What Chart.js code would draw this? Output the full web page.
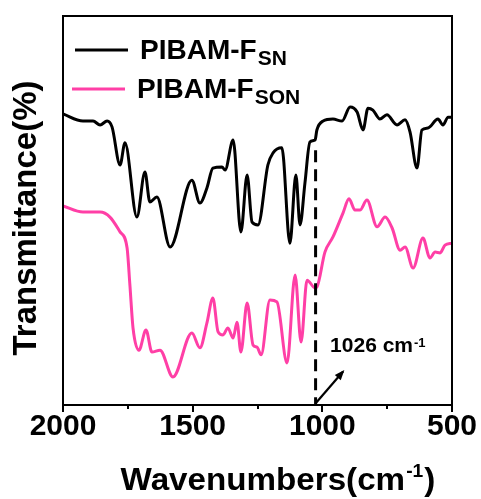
<!DOCTYPE html>
<html><head><meta charset="utf-8">
<script src="https://cdn.jsdelivr.net/npm/chart.js@4.4.0/dist/chart.umd.min.js"></script>
<style>html,body{margin:0;padding:0;background:#fff;overflow:hidden}</style>
</head><body>
<canvas id="c" width="481" height="499"></canvas>
<script>
// ---- data ----
const xTickValues = [2000, 1500, 1000, 500];
const xMinorTickValues = [1750, 1250, 750];
const xAxisTitle = 'Wavenumbers(cm';
const yAxisTitle = 'Transmittance(%)';
const seriesLabels = ['PIBAM-F', 'PIBAM-F'];
const seriesSubscripts = ['SN', 'SON'];
const seriesColors = ['#000000', '#ff3fa6'];

const wavenumbersSN = [2000,1923,1884,1857,1830,1811,1780,1761,1715,1684,1665,1638,1587,1503,1472,1445,1422,1387,1375,1344,1314,1290,1271,1248,1210,1190,1156,1125,1102,1086,1067,1048,1028,1021,997,959,924,893,866,843,824,805,778,751,712,681,662,635,616,593,554,535,515,500];
const transmittanceSN = [74.8,73.0,73.0,72.0,73.0,71.5,61.7,67.4,48.3,59.9,52.2,53.5,40.6,57.8,51.9,55.8,60.9,61.2,60.4,68.1,44.5,59.1,47.0,46.3,61.7,64.8,66.1,41.6,59.1,46.3,57.1,67.6,68.1,70.7,73.0,73.5,73.0,76.6,75.3,70.7,76.3,75.8,73.5,74.6,72.0,73.3,70.2,60.9,70.7,71.2,73.5,72.0,74.0,74.0];

const wavenumbersSON = [2000,1923,1857,1819,1780,1753,1742,1730,1707,1680,1657,1626,1576,1503,1472,1445,1422,1402,1383,1364,1344,1329,1314,1290,1267,1252,1236,1202,1175,1136,1105,1082,1059,1028,1021,990,959,920,897,874,855,828,789,758,731,700,681,650,612,585,565,546,527,500];
const transmittanceSON = [51.2,49.6,49.6,48.3,44.5,40.4,30.8,19.8,14.1,19.3,13.6,14.1,7.2,18.5,14.7,21.1,27.5,18.8,18.0,19.8,17.2,21.3,13.6,26.2,15.4,14.9,12.9,27.0,26.5,10.8,33.4,16.2,32.1,30.1,30.3,39.3,43.2,49.4,53.0,50.1,50.1,52.7,45.8,48.3,45.5,39.8,40.6,35.2,42.9,37.8,39.3,39.1,41.1,41.6];

const markerWavenumber = 1026;
const markerLabel = '1026 cm';
const markerTopValue = 65.5;

// ---- chart ----
const FONT = '"Liberation Sans", Arial, sans-serif';
const toPoints = (xs, ys) => xs.map((x, i) => ({x: x, y: ys[i]}));

const overlay = {
  id: 'overlay',
  afterDraw(chart) {
    const ctx = chart.ctx, a = chart.chartArea;
    const xs = chart.scales.x, ys = chart.scales.y;
    ctx.save();
    // frame
    ctx.strokeStyle = '#000'; ctx.lineWidth = 2;
    ctx.strokeRect(a.left, a.top, a.right - a.left, a.bottom - a.top);
    // ticks
    ctx.lineWidth = 2;
    xTickValues.concat(xMinorTickValues).forEach(v => {
      const px = Math.round(xs.getPixelForValue(v));
      const len = xTickValues.includes(v) ? 7 : 4;
      ctx.beginPath(); ctx.moveTo(px, a.bottom); ctx.lineTo(px, a.bottom + len); ctx.stroke();
    });
    // dashed marker line
    const mx = xs.getPixelForValue(markerWavenumber);
    ctx.setLineDash([12, 7]); ctx.lineWidth = 3;
    ctx.beginPath(); ctx.moveTo(mx, ys.getPixelForValue(markerTopValue)); ctx.lineTo(mx, a.bottom); ctx.stroke();
    ctx.setLineDash([]);
    // arrow
    const x0 = xs.getPixelForValue(1024), y0 = ys.getPixelForValue(0.6);
    const x1 = xs.getPixelForValue(920), y1 = ys.getPixelForValue(8.6);
    ctx.lineWidth = 2.2;
    ctx.beginPath(); ctx.moveTo(x0, y0); ctx.lineTo(x1, y1); ctx.stroke();
    const ang = Math.atan2(y1 - y0, x1 - x0);
    ctx.fillStyle = '#000';
    ctx.beginPath();
    ctx.moveTo(x1 + 2 * Math.cos(ang), y1 + 2 * Math.sin(ang));
    ctx.lineTo(x1 - 9 * Math.cos(ang - 0.45), y1 - 9 * Math.sin(ang - 0.45));
    ctx.lineTo(x1 - 9 * Math.cos(ang + 0.45), y1 - 9 * Math.sin(ang + 0.45));
    ctx.closePath(); ctx.fill();
    // marker label
    ctx.textBaseline = 'alphabetic'; ctx.textAlign = 'left';
    ctx.font = 'bold 21px ' + FONT;
    const lx = xs.getPixelForValue(970), ly = ys.getPixelForValue(13.6);
    ctx.fillText(markerLabel, lx, ly);
    const lw = ctx.measureText(markerLabel).width;
    ctx.font = 'bold 13px ' + FONT;
    ctx.fillText('-1', lx + lw + 1, ly - 5);
    // legend
    const legendRows = [{lx0: 75, lx1: 128, ly: 50, tx: 140, tb: 59}, {lx0: 72, lx1: 125, ly: 89, tx: 137, tb: 98}];
    legendRows.forEach((r, i) => {
      ctx.strokeStyle = seriesColors[i]; ctx.lineWidth = 3;
      ctx.beginPath(); ctx.moveTo(r.lx0, r.ly); ctx.lineTo(r.lx1, r.ly); ctx.stroke();
      ctx.fillStyle = '#000';
      ctx.font = 'bold 28px ' + FONT;
      ctx.fillText(seriesLabels[i], r.tx, r.tb);
      const w = ctx.measureText(seriesLabels[i]).width;
      ctx.font = 'bold 21px ' + FONT;
      ctx.fillText(seriesSubscripts[i], r.tx + w + 1, r.tb + 6);
    });
    // x title with superscript
    ctx.fillStyle = '#000';
    ctx.font = 'bold 31px ' + FONT;
    const mainW = ctx.measureText(xAxisTitle).width;
    const closeW = ctx.measureText(')').width;
    ctx.font = 'bold 18px ' + FONT;
    const supW = ctx.measureText('-1').width;
    const sx = 1.07;
    const total = (mainW + supW + closeW + 2) * sx;
    ctx.save();
    ctx.translate(278 - total / 2, 490);
    ctx.scale(sx, 1);
    ctx.font = 'bold 31px ' + FONT;
    ctx.fillText(xAxisTitle, 0, 0);
    ctx.font = 'bold 18px ' + FONT;
    ctx.fillText('-1', mainW + 1, -13);
    ctx.font = 'bold 31px ' + FONT;
    ctx.fillText(')', mainW + supW + 2, 0);
    ctx.restore();
    // y title
    ctx.save();
    ctx.translate(36, 218);
    ctx.rotate(-Math.PI / 2);
    ctx.font = 'bold 33px ' + FONT;
    ctx.textAlign = 'center';
    ctx.fillText(yAxisTitle, 0, 0);
    ctx.restore();
    ctx.restore();
  }
};

new Chart(document.getElementById('c'), {
  type: 'line',
  data: {
    datasets: [
      {label: seriesLabels[0] + seriesSubscripts[0], data: toPoints(wavenumbersSN, transmittanceSN), borderColor: seriesColors[0], borderWidth: 3, pointRadius: 0, cubicInterpolationMode: 'monotone', fill: false},
      {label: seriesLabels[1] + seriesSubscripts[1], data: toPoints(wavenumbersSON, transmittanceSON), borderColor: seriesColors[1], borderWidth: 3, pointRadius: 0, cubicInterpolationMode: 'monotone', fill: false}
    ]
  },
  options: {
    responsive: false, animation: false, devicePixelRatio: 1,
    layout: {padding: {top: 16, right: 29, left: 0, bottom: 0}},
    plugins: {legend: {display: false}, tooltip: {enabled: false}},
    scales: {
      x: {
        type: 'linear', reverse: true, min: 500, max: 2000,
        afterBuildTicks: s => { s.ticks = xTickValues.map(v => ({value: v})); },
        afterFit: s => { s.height = 94; s.paddingLeft = 0; s.paddingRight = 0; },
        grid: {display: false, drawTicks: false},
        border: {display: false},
        ticks: {color: '#000', padding: 4, maxRotation: 0, autoSkip: false,
                callback: v => String(v),
                font: {family: FONT, weight: 'bold', size: 30}}
      },
      y: {
        min: 0, max: 100,
        afterFit: s => { s.width = 63; },
        grid: {display: false, drawTicks: false},
        border: {display: false},
        ticks: {display: false}
      }
    }
  },
  plugins: [overlay]
});
</script>
</body></html>
